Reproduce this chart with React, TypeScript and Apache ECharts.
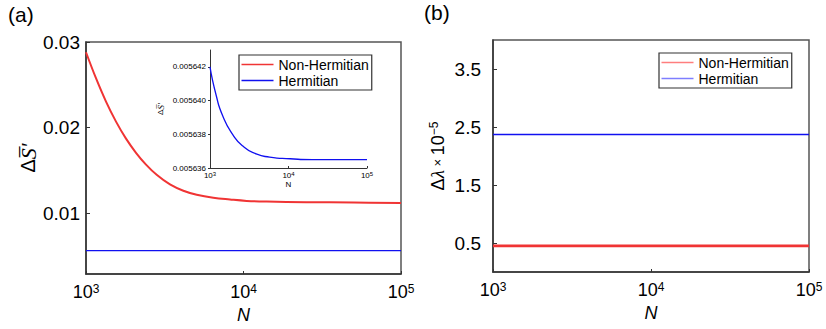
import React, { useEffect, useRef } from "react";
import * as echarts from "echarts";

// ---- data ----
const N_RED = [1000, 1157, 1340, 1551, 1795, 2077, 2405, 2810, 3413, 4150, 5045, 6430, 8204, 10474, 14030, 25000, 50000, 100000];
const NON_HERM_A = [0.0288, 0.02577, 0.02304, 0.0207, 0.01871, 0.01706, 0.01568, 0.01449, 0.01336, 0.01262, 0.01215, 0.0118, 0.0116, 0.01144, 0.01136, 0.01129, 0.01125, 0.0112];

const N_HERM = [1000, 1200, 1450, 1940, 2620, 3870, 5750, 10500, 20000, 50000, 100000];
const HERM_A = [0.005642, 0.0056403, 0.0056391, 0.005638, 0.0056373, 0.00563684, 0.00563665, 0.00563655, 0.0056365, 0.0056365, 0.0056365];

const N_B = [1000, 3000, 10000, 30000, 100000];
const NON_HERM_B = [0.45, 0.45, 0.45, 0.45, 0.45];
const HERM_B = [2.37, 2.37, 2.37, 2.37, 2.37];

const Y_TICKS_A = [0.01, 0.02, 0.03];
const Y_TICKS_INSET = [0.005636, 0.005638, 0.00564, 0.005642];
const Y_TICKS_B = [0.5, 1.5, 2.5, 3.5];

const RED = "#f03434";
const BLUE = "#1010f0";
const FONT = "Arial, 'Liberation Sans', sans-serif";
const AX = "#333";

const pairs = (xs: number[], ys: number[]) => xs.map((x, i) => [x, ys[i]]);

const logFmt = (v: number) => "{b|10}{s|" + Math.round(Math.log10(v)) + "}";

export default function App() {
  const ref = useRef<HTMLDivElement>(null);
  useEffect(() => {
    if (!ref.current) return;
    const chart = echarts.init(ref.current, null, { renderer: "svg" });

    const bigRich = {
      b: { fontSize: 18, fontFamily: FONT, color: "#000" },
      s: { fontSize: 12, fontFamily: FONT, color: "#000", verticalAlign: "top", padding: [0, 0, 0, 0] },
    };
    const smallRich = {
      b: { fontSize: 8, fontFamily: FONT, color: "#000" },
      s: { fontSize: 6, fontFamily: FONT, color: "#000", verticalAlign: "top" },
    };

    const mainX = (gridIndex: number) => ({
      type: "log",
      logBase: 10,
      gridIndex,
      min: 1000,
      max: 100000,
      name: "N",
      nameLocation: "middle",
      nameGap: 27,
      nameTextStyle: { fontSize: 18, fontStyle: "italic", fontFamily: FONT, color: "#000" },
      axisLine: { show: true, lineStyle: { color: AX, width: 1.5 } },
      axisTick: { show: true, inside: true, length: 3, lineStyle: { color: AX, width: 1 } },
      minorTick: { show: false },
      splitLine: { show: false },
      axisLabel: { formatter: logFmt, rich: bigRich, margin: 9 },
    });

    const option: any = {
      animation: false,
      backgroundColor: "#fff",
      grid: [
        { left: 86, top: 42, width: 315, height: 232, show: true, borderColor: "#555", borderWidth: 1.5, backgroundColor: "transparent" },
        { left: 210, top: 50, width: 157, height: 118, show: false },
        { left: 493, top: 40, width: 316, height: 232, show: true, borderColor: "#555", borderWidth: 1.5, backgroundColor: "transparent" },
      ],
      xAxis: [
        mainX(0),
        {
          type: "log",
          logBase: 10,
          gridIndex: 1,
          min: 1000,
          max: 100000,
          name: "N",
          nameLocation: "middle",
          nameGap: 12,
          nameTextStyle: { fontSize: 8, fontFamily: FONT, color: "#000" },
          axisLine: { show: true, lineStyle: { color: AX, width: 1 } },
          axisTick: { show: true, inside: true, length: 2, lineStyle: { color: AX } },
          splitLine: { show: false },
          axisLabel: { formatter: logFmt, rich: smallRich, margin: 3 },
        },
        mainX(2),
      ],
      yAxis: [
        {
          type: "value",
          gridIndex: 0,
          min: 0.0029,
          max: 0.03,
          name: "{d|Δ}{s|S\u0305'}",
          nameLocation: "middle",
          nameGap: 44,
          nameTextStyle: {
            rich: {
              d: { fontSize: 20, fontFamily: FONT, color: "#000" },
              s: { fontSize: 22, fontFamily: "'Liberation Serif', 'Times New Roman', serif", fontStyle: "italic", color: "#000" },
            },
          },
          axisLine: { show: true, lineStyle: { color: AX, width: 1.5 } },
          axisTick: { show: true, inside: true, length: 4, customValues: Y_TICKS_A, lineStyle: { color: AX } },
          splitLine: { show: false },
          axisLabel: {
            customValues: Y_TICKS_A,
            formatter: (v: number) => v.toFixed(2),
            fontSize: 19,
            fontFamily: FONT,
            color: "#000",
            margin: 6,
          },
        },
        {
          type: "value",
          gridIndex: 1,
          min: 0.005636,
          max: 0.005643,
          name: "{d|Δ}{s|S\u0305'}",
          nameLocation: "middle",
          nameGap: 45,
          nameTextStyle: {
            rich: {
              d: { fontSize: 8, fontFamily: FONT, color: "#000" },
              s: { fontSize: 9, fontFamily: "'Liberation Serif', serif", fontStyle: "italic", color: "#000" },
            },
          },
          axisLine: { show: true, lineStyle: { color: AX, width: 1 } },
          axisTick: { show: true, inside: false, length: 2, customValues: Y_TICKS_INSET, lineStyle: { color: AX } },
          splitLine: { show: false },
          axisLabel: {
            customValues: Y_TICKS_INSET,
            formatter: (v: number) => v.toFixed(6),
            fontSize: 8,
            fontFamily: FONT,
            color: "#000",
            margin: 4,
          },
        },
        {
          type: "value",
          gridIndex: 2,
          min: 0,
          max: 4,
          name: "{d|Δ}{l|λ}{x| × }{d|10}{s|−5}",
          nameLocation: "middle",
          nameGap: 46,
          nameTextStyle: {
            rich: {
              d: { fontSize: 18, fontFamily: FONT, color: "#000" },
              l: { fontSize: 19, fontFamily: "'Liberation Serif', serif", fontStyle: "italic", color: "#000" },
              x: { fontSize: 13, fontFamily: FONT, color: "#000" },
              s: { fontSize: 12, fontFamily: FONT, color: "#000", verticalAlign: "top" },
            },
          },
          axisLine: { show: true, lineStyle: { color: AX, width: 1.5 } },
          axisTick: { show: true, inside: true, length: 4, customValues: Y_TICKS_B, lineStyle: { color: AX } },
          splitLine: { show: false },
          axisLabel: {
            customValues: Y_TICKS_B,
            formatter: (v: number) => v.toFixed(1),
            fontSize: 19,
            fontFamily: FONT,
            color: "#000",
            margin: 12,
          },
        },
      ],
      legend: [
        {
          left: 239,
          top: 55,
          orient: "vertical",
          icon: "rect",
          itemWidth: 32,
          itemHeight: 1.5,
          itemGap: 2,
          padding: [2.5, 3, 2.5, 2.5],
          borderColor: "#333",
          borderWidth: 1.2,
          selectedMode: false,
          textStyle: { fontSize: 14, fontFamily: FONT, color: "#000", padding: [0, 0, 0, 0] },
          data: [
            { name: "Non-Hermitian", itemStyle: { color: RED } },
            { name: "Hermitian", itemStyle: { color: BLUE } },
          ],
        },
        {
          left: 659,
          top: 53,
          orient: "vertical",
          icon: "rect",
          itemWidth: 32,
          itemHeight: 1.5,
          itemGap: 2,
          padding: [2.5, 3, 2.5, 2.5],
          borderColor: "#333",
          borderWidth: 1.2,
          selectedMode: false,
          textStyle: { fontSize: 14, fontFamily: FONT, color: "#000" },
          data: [
            { name: "Non-Hermitian", itemStyle: { color: "rgba(255,40,40,0.6)" } },
            { name: "Hermitian", itemStyle: { color: "rgba(40,40,255,0.6)" } },
          ],
        },
      ],
      series: [
        {
          type: "line", name: "Non-Hermitian", xAxisIndex: 0, yAxisIndex: 0,
          data: pairs(N_RED, NON_HERM_A), showSymbol: false, smooth: 0.4,
          lineStyle: { color: RED, width: 2 }, itemStyle: { color: RED },
        },
        {
          type: "line", name: "Hermitian", xAxisIndex: 0, yAxisIndex: 0,
          data: pairs(N_HERM, HERM_A), showSymbol: false,
          lineStyle: { color: BLUE, width: 1.3 }, itemStyle: { color: BLUE },
        },
        {
          type: "line", name: "Hermitian", xAxisIndex: 1, yAxisIndex: 1,
          data: pairs(N_HERM, HERM_A), showSymbol: false, smooth: 0.6,
          lineStyle: { color: BLUE, width: 1.3 }, itemStyle: { color: BLUE },
        },
        {
          type: "line", name: "Non-Hermitian", xAxisIndex: 2, yAxisIndex: 2,
          data: pairs(N_B, NON_HERM_B), showSymbol: false,
          lineStyle: { color: RED, width: 2.6 }, itemStyle: { color: RED },
        },
        {
          type: "line", name: "Hermitian", xAxisIndex: 2, yAxisIndex: 2,
          data: pairs(N_B, HERM_B), showSymbol: false,
          lineStyle: { color: BLUE, width: 1.5 }, itemStyle: { color: BLUE },
        },
      ],
      graphic: [
        { type: "text", left: 8, top: 4, style: { text: "(a)", fontSize: 21, fontFamily: FONT, fill: "#000" } },
        { type: "text", left: 424, top: 2, style: { text: "(b)", fontSize: 21, fontFamily: FONT, fill: "#000" } },
      ],
    };

    chart.setOption(option);
    return () => chart.dispose();
  }, []);

  return (
    <div
      ref={ref}
      style={{ position: "fixed", left: 0, top: 0, width: 826, height: 329, background: "#fff" }}
    />
  );
}
